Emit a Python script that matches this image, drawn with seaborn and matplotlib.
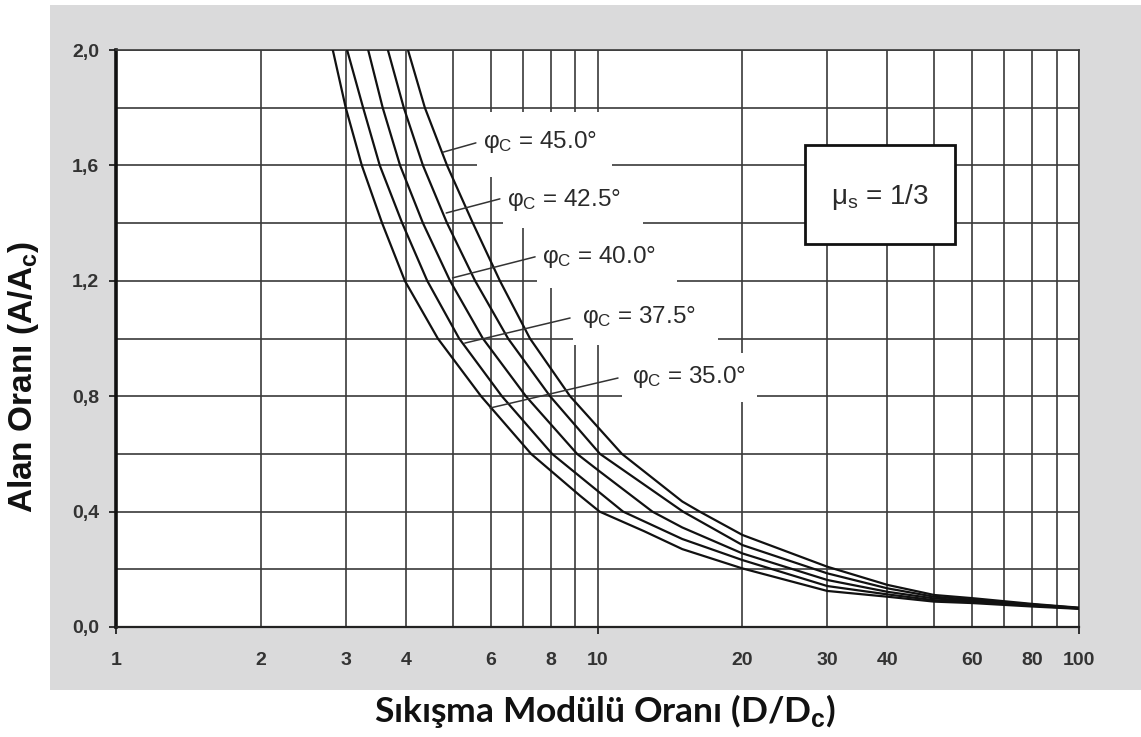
import numpy as np
import pandas as pd
import matplotlib
matplotlib.use("Agg")
import matplotlib.pyplot as plt
from matplotlib.patches import Rectangle
from matplotlib.ticker import FixedLocator, FuncFormatter, NullFormatter
import seaborn as sns

# ---------------- data ----------------
phi_labels = ["35.0", "37.5", "40.0", "42.5", "45.0"]

d_35 = [2.82, 3.00, 3.24, 3.57, 3.98, 4.66, 5.73, 7.28, 9.2, 10.1, 12.5, 15.0, 20.0, 30.0, 40.0, 50.0, 60.0, 80.0, 100.0]
a_35 = [2.00, 1.80, 1.60, 1.40, 1.20, 1.00, 0.80, 0.60, 0.455, 0.40, 0.332, 0.27, 0.203, 0.125, 0.105, 0.088, 0.083, 0.071, 0.063]

d_375 = [3.02, 3.26, 3.53, 3.93, 4.43, 5.16, 6.33, 8.05, 10.0, 11.3, 15.0, 20.0, 30.0, 40.0, 50.0, 60.0, 80.0, 100.0]
a_375 = [2.00, 1.80, 1.60, 1.40, 1.20, 1.00, 0.80, 0.60, 0.472, 0.40, 0.305, 0.232, 0.142, 0.113, 0.093, 0.087, 0.074, 0.064]

d_40 = [3.34, 3.58, 3.89, 4.34, 4.94, 5.78, 7.10, 9.07, 10.0, 13.0, 15.0, 20.0, 30.0, 40.0, 50.0, 60.0, 80.0, 100.0]
a_40 = [2.00, 1.80, 1.60, 1.40, 1.20, 1.00, 0.80, 0.60, 0.545, 0.40, 0.345, 0.255, 0.163, 0.122, 0.099, 0.091, 0.076, 0.065]

d_425 = [3.67, 3.96, 4.34, 4.87, 5.57, 6.52, 7.97, 10.12, 15.05, 20.0, 30.0, 40.0, 50.0, 60.0, 80.0, 100.0]
a_425 = [2.00, 1.80, 1.60, 1.40, 1.20, 1.00, 0.80, 0.60, 0.40, 0.284, 0.186, 0.134, 0.105, 0.095, 0.078, 0.066]

d_45 = [4.04, 4.38, 4.87, 5.51, 6.27, 7.24, 8.77, 11.24, 15.0, 16.3, 20.0, 30.0, 40.0, 50.0, 60.0, 80.0, 100.0]
a_45 = [2.00, 1.80, 1.60, 1.40, 1.20, 1.00, 0.80, 0.60, 0.435, 0.40, 0.319, 0.209, 0.146, 0.111, 0.100, 0.080, 0.067]

x_tick_vals = [1, 2, 3, 4, 6, 8, 10, 20, 30, 40, 60, 80, 100]
x_grid_vals = [2, 3, 4, 5, 6, 7, 8, 9, 20, 30, 40, 50, 60, 70, 80, 90]
y_tick_vals = [0.0, 0.4, 0.8, 1.2, 1.6, 2.0]
y_tick_labels = ["0,0", "0,4", "0,8", "1,2", "1,6", "2,0"]

x_label = "Sıkışma Modülü Oranı (D/D$_{\\mathbf{c}}$)"
y_label = "Alan Oranı (A/A$_{\\mathbf{c}}$)"
mu_text = "μ$_{\\mathrm{s}}$ = 1/3"

curves = [(phi_labels[0], d_35, a_35), (phi_labels[1], d_375, a_375),
          (phi_labels[2], d_40, a_40), (phi_labels[3], d_425, a_425),
          (phi_labels[4], d_45, a_45)]
df = pd.concat([pd.DataFrame({"D": d, "A": a, "phi": p}) for p, d, a in curves],
               ignore_index=True)

# ---------------- style ----------------
sns.set_theme(style="white")
plt.rcParams["font.family"] = ["Liberation Sans", "DejaVu Sans"]
plt.rcParams["mathtext.fontset"] = "custom"
plt.rcParams["mathtext.rm"] = "Liberation Sans"
plt.rcParams["mathtext.bf"] = "Liberation Sans:bold"
plt.rcParams["mathtext.it"] = "Liberation Sans:italic"

W, H = 1141, 737
fig = plt.figure(figsize=(W / 100, H / 100), dpi=100)
fig.patch.set_facecolor("white")

# gray panel
fig.patches.append(Rectangle((50 / W, 1 - 690 / H), 1 - 50 / W, (690 - 5) / H,
                             transform=fig.transFigure, facecolor="#dadadb",
                             edgecolor="none", zorder=-10))

ax = fig.add_axes([116 / W, 1 - 627 / H, (1079 - 116) / W, (627 - 50) / H])
ax.set_facecolor("white")

sns.lineplot(data=df, x="D", y="A", hue="phi", palette=["#111111"] * 5,
             estimator=None, sort=False, legend=False, linewidth=1.6, ax=ax,
             zorder=3)

ax.set_xscale("log")
ax.set_xlim(1, 100)
ax.set_ylim(0, 2.0)
ax.set_xlabel("")
ax.set_ylabel("")

# x ticks: majors 1, 10, 100 with small tick marks; minors only grid
ax.xaxis.set_major_locator(FixedLocator([1, 10, 100]))
ax.xaxis.set_minor_locator(FixedLocator(x_grid_vals))
fmt = FuncFormatter(lambda v, p: (str(int(round(v))) if int(round(v)) in x_tick_vals else ""))
ax.xaxis.set_major_formatter(fmt)
ax.xaxis.set_minor_formatter(fmt)
ax.tick_params(axis="x", which="major", length=5, width=1.3, color="#222222",
               pad=13, labelsize=14, labelcolor="#333333", bottom=True)
ax.tick_params(axis="x", which="minor", length=0, pad=18, labelsize=14,
               labelcolor="#333333", bottom=True)

ax.yaxis.set_major_locator(FixedLocator(y_tick_vals))
ax.yaxis.set_minor_locator(FixedLocator([0.2, 0.6, 1.0, 1.4, 1.8]))
ax.set_yticklabels(y_tick_labels)
ax.yaxis.set_minor_formatter(NullFormatter())
ax.tick_params(axis="y", which="major", length=5, width=1.3, color="#222222",
               pad=7, labelsize=14, labelcolor="#333333", left=True)
ax.tick_params(axis="y", which="minor", length=0)
for lab in ax.get_xticklabels(which="both") + ax.get_yticklabels():
    lab.set_fontweight("bold")

ax.set_axisbelow(True)
ax.grid(which="both", color="#3a3a3a", linewidth=1.2)

for side in ["top", "right"]:
    ax.spines[side].set_color("#3a3a3a")
    ax.spines[side].set_linewidth(1.2)
ax.spines["left"].set_color("#111111")
ax.spines["left"].set_linewidth(2.6)
ax.spines["bottom"].set_color("#222222")
ax.spines["bottom"].set_linewidth(1.6)

# ---------------- curve labels ----------------
# white boxes hiding the grid behind labels (data coords: x0, x1, y0, y1)
label_boxes = [
    (11.24, 21.44, 0.780, 0.950),
    (8.89, 17.80, 0.977, 1.175),
    (7.49, 14.63, 1.175, 1.383),
    (6.36, 12.43, 1.383, 1.560),
    (5.62, 10.72, 1.560, 1.785),
]
label_text_pos = [(11.8, 0.867), (9.29, 1.075), (7.67, 1.283), (6.49, 1.48), (5.78, 1.681)]
leader_start = [(5.98, 0.759), (5.30, 0.984), (5.00, 1.21), (4.85, 1.435), (4.78, 1.646)]
leader_end = [(11.03, 0.863), (8.77, 1.071), (7.42, 1.283), (6.27, 1.484), (5.59, 1.678)]

for i, p in enumerate(phi_labels):
    x0, x1, y0, y1 = label_boxes[i]
    ax.add_patch(Rectangle((x0, y0), x1 - x0, y1 - y0, facecolor="white",
                           edgecolor="none", zorder=1.5))
    (sx, sy), (ex, ey) = leader_start[i], leader_end[i]
    ax.plot([sx, ex], [sy, ey], color="#333333", linewidth=1.1, zorder=4)
    tx, ty = label_text_pos[i]
    ax.text(tx, ty, "φ$_{\\mathrm{C}}$ = " + p + "°", fontsize=17.5,
            color="#2a2a2a", ha="left", va="center", zorder=5)

# mu_s box
ax.add_patch(Rectangle((26.97, 1.328), 55.3 - 26.97, 1.671 - 1.328,
                       facecolor="white", edgecolor="#111111", linewidth=2.0,
                       zorder=4))
ax.text(38.6, 1.49, mu_text, fontsize=20, color="#2a2a2a",
        ha="center", va="center", zorder=5)

# axis titles
fig.text(605 / W, 1 - 722 / H, x_label, fontsize=25.5, fontweight="bold",
         family=["Lato", "DejaVu Sans"], color="#111111", ha="center", va="baseline")
fig.text(24 / W, 1 - 377 / H, y_label, fontsize=24, fontweight="bold",
         color="#111111", rotation=90, ha="center", va="center")

fig.savefig("out.png", dpi=100, facecolor="white")
